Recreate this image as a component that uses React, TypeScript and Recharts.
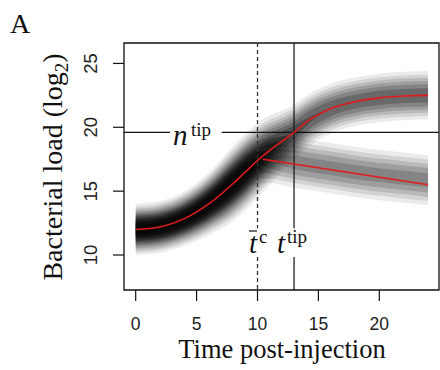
import { ComposedChart, Area, Line, XAxis, YAxis, ReferenceLine, ReferenceArea } from "recharts";

const hours = [0, 2, 4, 6, 8, 9, 10, 11, 12, 13, 14, 16, 18, 20, 22, 24];

// growing branch: red curve, vertical spread and peak darkness of the grey cloud
const upperLoad = [12.0, 12.2, 12.85, 14.0, 15.6, 16.5, 17.4, 18.2, 18.9, 19.6, 20.4, 21.45, 22.0, 22.3, 22.45, 22.5];
const upperSpread = [0.82, 0.83, 0.87, 1.0, 1.2, 1.24, 1.24, 1.2, 1.1, 1.02, 0.98, 0.94, 0.92, 0.92, 0.92, 0.92];
const upperPeak = [1, 1, 1, 1, 1, 0.95, 0.82, 0.68, 0.56, 0.5, 0.46, 0.43, 0.42, 0.42, 0.42, 0.42];

// controlled branch (splits off around t = 9)
const lowerCentre = [null, null, null, null, null, 16.3, 17.0, 17.4, 17.4, 17.25, 17.1, 16.8, 16.5, 16.25, 16.05, 15.85];
const lowerSpread = [null, null, null, null, null, 0.9, 0.95, 1.0, 1.03, 1.03, 1.03, 1.03, 1.03, 1.03, 1.03, 1.03];
const lowerPeak = [null, null, null, null, null, 0.08, 0.16, 0.24, 0.29, 0.31, 0.31, 0.31, 0.31, 0.31, 0.31, 0.31];

// red line of the controlled branch
const clearedHours = [10.45, 24];
const clearedLoad = [17.5, 15.5];

const nTip = 19.6;
const tTip = 13;
const tMeanC = 10;

const xTicks = [0, 5, 10, 15, 20];
const yTicks = [10, 15, 20, 25];
const X_DOMAIN: [number, number] = [-0.96, 24.9];
const Y_DOMAIN: [number, number] = [7.26, 26.6];

// density contour levels and the grey added by each one
const levels = [0.05, 0.09, 0.14, 0.2, 0.27, 0.35, 0.44, 0.53, 0.62, 0.71, 0.8, 0.9];
const shades = [0.08, 0.1, 0.12, 0.14, 0.16, 0.2, 0.25, 0.3, 0.3, 0.35, 0.4, 0.4];

function band(m: number, s: number, p: number, level: number): [number, number] {
  const h = p > level ? s * Math.sqrt(2 * Math.log(p / level)) : 0;
  return [m - h, m + h];
}

const rows = hours.map((t, i) => {
  const row: any = { t, upper: upperLoad[i] };
  levels.forEach((L, k) => {
    row[`a${k}`] = band(upperLoad[i], upperSpread[i], upperPeak[i], L);
    const c = lowerCentre[i];
    row[`b${k}`] = c == null ? null : band(c, lowerSpread[i] as number, lowerPeak[i] as number, L);
  });
  return row;
});

const clearedRows = clearedHours.map((t, i) => ({ t, load: clearedLoad[i] }));

const serif = "'Liberation Serif', 'Times New Roman', serif";
const sans = "'Liberation Sans', Arial, sans-serif";

function XTick({ x, y, payload }: any) {
  return (
    <text x={x} y={y + 27} textAnchor="middle" fontFamily={sans} fontSize={17.5} fill="#222">
      {payload.value}
    </text>
  );
}

function YTick({ x, y, payload }: any) {
  const cx = x - 14;
  return (
    <text x={cx} y={y} transform={`rotate(-90 ${cx} ${y})`} textAnchor="middle" fontFamily={sans} fontSize={18.5} fill="#222">
      {payload.value}
    </text>
  );
}

export default function App() {
  const lineColor = "#111";
  return (
    <div style={{ position: "absolute", left: 0, top: 0, width: 440, height: 370, background: "#fff" }}>
      <ComposedChart width={440} height={370} data={rows} margin={{ top: 43, right: 1, bottom: 0, left: 0 }}>
        <XAxis
          dataKey="t"
          type="number"
          domain={X_DOMAIN}
          allowDataOverflow
          ticks={xTicks}
          interval={0}
          height={80}
          axisLine={false}
          tickSize={11}
          tickLine={{ stroke: lineColor, strokeWidth: 1.2 }}
          tick={<XTick />}
        />
        <YAxis
          type="number"
          domain={Y_DOMAIN}
          allowDataOverflow
          ticks={yTicks}
          interval={0}
          width={124}
          axisLine={false}
          tickSize={11}
          tickLine={{ stroke: lineColor, strokeWidth: 1.2 }}
          tick={<YTick />}
        />
        {levels.map((_, k) => (
          <Area key={`a${k}`} dataKey={`a${k}`} type="monotone" stroke="none" fill="#000" fillOpacity={shades[k]} isAnimationActive={false} />
        ))}
        {levels.map((_, k) => (
          <Area key={`b${k}`} dataKey={`b${k}`} type="monotone" stroke="none" fill="#000" fillOpacity={shades[k]} isAnimationActive={false} />
        ))}
        <ReferenceArea x1={X_DOMAIN[0]} x2={X_DOMAIN[1]} y1={Y_DOMAIN[0]} y2={Y_DOMAIN[1]} fill="none" stroke={lineColor} strokeWidth={1.3} ifOverflow="visible" />
        <ReferenceLine segment={[{ x: X_DOMAIN[0], y: nTip }, { x: 2.82, y: nTip }]} stroke={lineColor} strokeWidth={1.2} />
        <ReferenceLine segment={[{ x: 7.06, y: nTip }, { x: X_DOMAIN[1], y: nTip }]} stroke={lineColor} strokeWidth={1.2} />
        <ReferenceLine segment={[{ x: tTip, y: Y_DOMAIN[1] }, { x: tTip, y: 12.1 }]} stroke={lineColor} strokeWidth={1.2} />
        <ReferenceLine segment={[{ x: tTip, y: 9.84 }, { x: tTip, y: Y_DOMAIN[0] }]} stroke={lineColor} strokeWidth={1.2} />
        <ReferenceLine segment={[{ x: tMeanC, y: Y_DOMAIN[1] }, { x: tMeanC, y: 12.1 }]} stroke="#333" strokeWidth={1.3} strokeDasharray="4 3" />
        <ReferenceLine segment={[{ x: tMeanC, y: 9.84 }, { x: tMeanC, y: Y_DOMAIN[0] }]} stroke="#333" strokeWidth={1.3} strokeDasharray="4 3" />
        <Line dataKey="upper" type="monotone" stroke="#e31a1c" strokeWidth={1.6} dot={false} isAnimationActive={false} />
        <Line data={clearedRows} dataKey="load" type="linear" stroke="#e31a1c" strokeWidth={1.6} dot={false} isAnimationActive={false} />
      </ComposedChart>
      <svg width={440} height={370} style={{ position: "absolute", left: 0, top: 0, pointerEvents: "none" }}>
        <text x={10} y={33} fontFamily={serif} fontSize={28} fill="#111">A</text>
        <text x={62} y={167} transform="rotate(-90 62 167)" textAnchor="middle" fontFamily={serif} fontSize={28} fill="#111">
          Bacterial load (log<tspan fontSize={19} dy={6}>2</tspan><tspan dy={-6}>)</tspan>
        </text>
        <text x={282} y={358} textAnchor="middle" fontFamily={serif} fontSize={26.5} fill="#111">Time post-injection</text>
        <text x={173} y={145} fontFamily={serif} fontStyle="italic" fontSize={29} fill="#111">n</text>
        <text x={191} y={136} fontFamily={serif} fontSize={19} fill="#111">tip</text>
        <text x={249} y={253} fontFamily={serif} fontStyle="italic" fontSize={29} fill="#111">t</text>
        <line x1={249} x2={257} y1={231} y2={231} stroke="#111" strokeWidth={1.2} />
        <text x={259} y={243} fontFamily={serif} fontSize={19} fill="#111">c</text>
        <text x={277} y={253} fontFamily={serif} fontStyle="italic" fontSize={29} fill="#111">t</text>
        <text x={287} y={243} fontFamily={serif} fontSize={19} fill="#111">tip</text>
      </svg>
    </div>
  );
}
